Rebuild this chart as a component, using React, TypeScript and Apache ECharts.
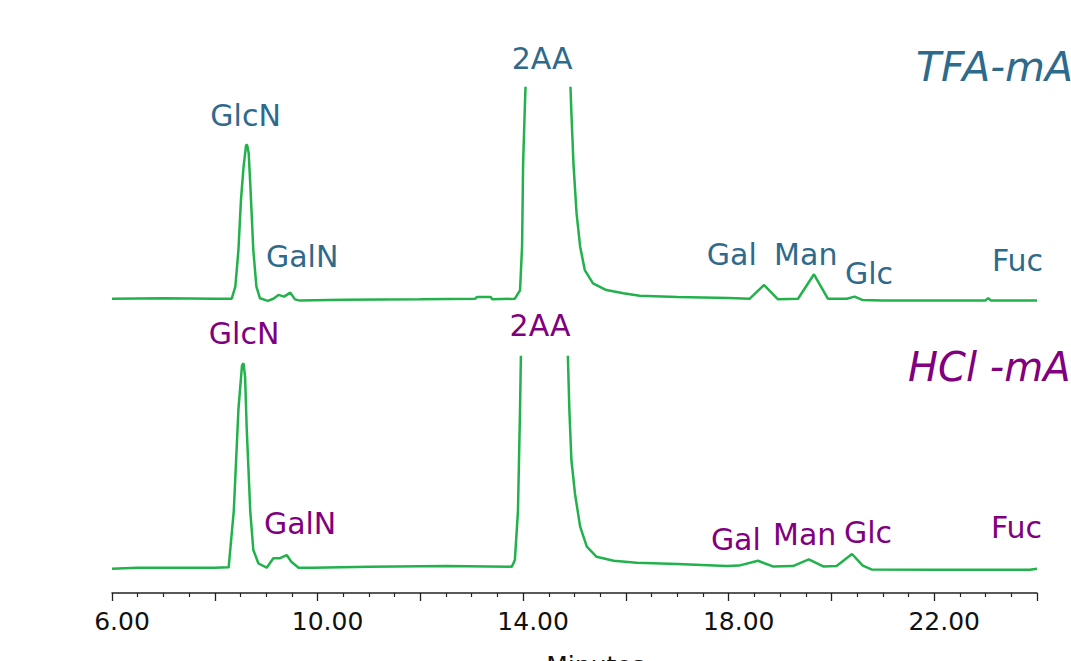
import React, { useEffect, useRef } from "react";
import * as echarts from "echarts";

// TFA-mAb trace (minutes, signal)
const tfaTime = [6.0, 7.0, 8.0, 8.33, 8.4, 8.46, 8.51, 8.56, 8.61, 8.63, 8.66, 8.69, 8.75, 8.81, 8.88, 9.03, 9.14, 9.24, 9.35, 9.47, 9.56, 9.66, 10.5, 12.0, 13.07, 13.1, 13.37, 13.4, 13.84, 13.94, 13.98, 14.0, 14.04, 14.07, 14.5, 14.9, 14.94, 14.98, 15.04, 15.11, 15.2, 15.36, 15.62, 15.95, 16.27, 17.0, 18.0, 18.41, 18.69, 18.96, 19.35, 19.66, 19.93, 20.3, 20.45, 20.6, 21.0, 22.0, 23.0, 23.05, 23.1, 24.0];
const tfaSignal = [0, 0.2, 0, 0, 5.7, 23, 47, 62.6, 73, 73, 69, 54.8, 23, 5.7, 0.2, -1, 0, 1.8, 1, 2.9, -0.3, -0.9, -0.5, -0.3, 0, 0.8, 0.8, -0.3, 0, 4, 25, 64, 96, 115, 1000, 115, 88, 64, 40.5, 24.7, 13.6, 7.3, 4.1, 2.6, 1.4, 0.8, 0.3, 0, 6.5, -0.3, 0, 11.6, 0, 0, 1, -0.6, -0.8, -0.8, -0.8, 0.3, -0.8, -0.8];

// HCl-mAb trace (minutes, signal)
const hclTime = [6.0, 6.5, 8.0, 8.27, 8.37, 8.46, 8.53, 8.56, 8.59, 8.62, 8.69, 8.75, 8.85, 9.01, 9.14, 9.27, 9.4, 9.49, 9.63, 9.92, 11.0, 12.5, 13.78, 13.84, 13.9, 13.94, 13.96, 14.4, 14.86, 14.9, 14.94, 15.01, 15.11, 15.24, 15.43, 15.76, 16.21, 17.0, 17.96, 18.2, 18.57, 18.86, 19.25, 19.56, 19.84, 20.1, 20.4, 20.61, 20.78, 22.0, 23.86, 24.0];
const hclSignal = [-0.5, 0, 0, 0.2, 27, 75, 96, 97, 90.6, 67, 27, 8.4, 2, 0, 4.5, 4.5, 6, 2.8, 0, 0, 0.5, 0.8, 0.5, 3.7, 27, 75, 105, 1000, 110, 75, 51, 35, 19.5, 10, 5.2, 3.3, 2.4, 1.8, 0.8, 1, 3.3, 0.6, 0.8, 4, 0.6, 0.8, 6.5, 1, -0.8, -1, -1, -0.5];

// Peak annotations
const peakNames = ["GlcN", "GalN", "2AA", "Gal", "Man", "Glc", "Fuc"];
const tfaLabelX = [8.6, 9.7, 14.37, 18.06, 19.5, 20.73, 23.62];
const tfaLabelY = [87, 20, 114, 21, 21, 12, 18];
const hclLabelX = [8.57, 9.66, 14.33, 18.14, 19.48, 20.71, 23.6];
const hclLabelY = [111, 21, 115, 13.5, 16, 16.5, 19];

const titles = ["TFA-mAb", "HCl -mAb"];

const xMin = 6;
const xMax = 24;
const xLabels = [6, 10, 14, 18, 22];

const BLUE = "#2e6a8c";
const PURPLE = "#800080";
const GREEN = "#22b24c";
const FONT = "DejaVu Sans";

function zip(a: number[], b: number[]) {
  return a.map((v, i) => [v, b[i]]);
}

export default function App() {
  const ref = useRef<HTMLDivElement>(null);
  useEffect(() => {
    if (!ref.current) return;
    const chart = echarts.init(ref.current, null, { renderer: "svg" });
    const labelSeries = (xs: number[], ys: number[], color: string, gi: number) => ({
      type: "scatter",
      xAxisIndex: gi,
      yAxisIndex: gi,
      clip: false,
      silent: true,
      symbol: "circle",
      symbolSize: 1,
      itemStyle: { color: "transparent", opacity: 1 },
      label: {
        show: true,
        position: "inside",
        formatter: "{b}",
        color,
        opacity: 1,
        fontSize: 30,
        fontFamily: FONT,
      },
      data: peakNames.map((n, i) => ({ name: n, value: [xs[i], ys[i]] })),
      z: 5,
    });
    chart.setOption({
      animation: false,
      backgroundColor: "#ffffff",
      grid: [
        { left: 112, right: 34, top: 88, height: 236, outerBoundsMode: "none", containLabel: false },
        { left: 112, right: 34, top: 357, height: 236, outerBoundsMode: "none", containLabel: false },
      ],
      xAxis: [
        { type: "value", gridIndex: 0, min: xMin, max: xMax, show: false },
        {
          type: "value",
          gridIndex: 1,
          min: xMin,
          max: xMax,
          interval: 2,
          name: "Minutes",
          nameLocation: "middle",
          nameGap: 60,
          nameTextStyle: { fontSize: 25, fontFamily: FONT, color: "#111", padding: [0, 0, 0, 42] },
          axisLine: { show: true, onZero: false, lineStyle: { color: "#222", width: 1.5 } },
          axisTick: { show: true, length: 8, lineStyle: { color: "#222", width: 1.3 } },
          minorTick: { show: true, splitNumber: 4, length: 4, lineStyle: { color: "#222", width: 1.2 } },
          splitLine: { show: false },
          minorSplitLine: { show: false },
          axisLabel: {
            margin: 16,
            fontSize: 25,
            fontFamily: FONT,
            color: "#111",
            padding: [0, 0, 0, 20],
            showMinLabel: true,
            showMaxLabel: false,
            formatter: (v: number) => (xLabels.includes(v) ? v.toFixed(2) : ""),
          },
        },
      ],
      yAxis: [
        { type: "value", gridIndex: 0, min: -12, max: 100, show: false },
        { type: "value", gridIndex: 1, min: -12, max: 100, show: false },
      ],
      series: [
        {
          type: "line",
          xAxisIndex: 0,
          yAxisIndex: 0,
          data: zip(tfaTime, tfaSignal),
          showSymbol: false,
          symbol: "none",
          lineStyle: { color: GREEN, width: 2.5 },
          clip: true,
        },
        {
          type: "line",
          xAxisIndex: 1,
          yAxisIndex: 1,
          data: zip(hclTime, hclSignal),
          showSymbol: false,
          symbol: "none",
          lineStyle: { color: GREEN, width: 2.5 },
          clip: true,
        },
        labelSeries(tfaLabelX, tfaLabelY, BLUE, 0),
        labelSeries(hclLabelX, hclLabelY, PURPLE, 1),
      ],
      graphic: [
        {
          type: "text",
          x: 916,
          y: 67,
          style: {
            text: titles[0],
            fill: BLUE,
            fontSize: 41,
            fontStyle: "italic",
            fontFamily: FONT,
            align: "left",
            verticalAlign: "middle",
          },
        },
        {
          type: "text",
          x: 908,
          y: 367,
          style: {
            text: titles[1],
            fill: PURPLE,
            fontSize: 40,
            fontStyle: "italic",
            fontFamily: FONT,
            align: "left",
            verticalAlign: "middle",
          },
        },
      ],
    });
    return () => chart.dispose();
  }, []);
  return (
    <div
      ref={ref}
      style={{ position: "fixed", left: 0, top: 0, width: 1071, height: 661, background: "#fff" }}
    />
  );
}
